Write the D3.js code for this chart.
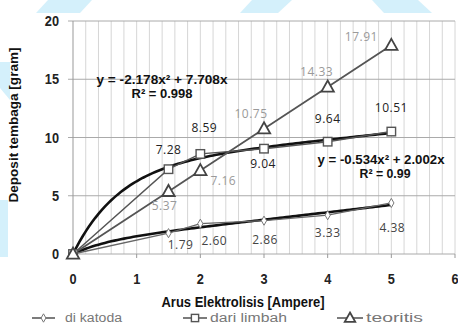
<!DOCTYPE html>
<html>
<head>
<meta charset="utf-8">
<script src="https://cdn.jsdelivr.net/npm/d3@7"></script>
<style>
  body { margin: 0; background: #fff; }
  svg { display: block; }
</style>
</head>
<body>
<div id="chart"></div>
<script>
// Data
const arus = [0, 1.5, 2, 3, 4, 5];
const diKatoda = [0, 1.79, 2.60, 2.86, 3.33, 4.38];
const dariLimbah = [0, 7.28, 8.59, 9.04, 9.64, 10.51];
const teoritis = [0, 5.37, 7.16, 10.75, 14.33, 17.91];
const xTicks = [0, 1, 2, 3, 4, 5, 6];
const yTicks = [0, 5, 10, 15, 20];
const legendNames = ["di katoda", "dari limbah", "teoritis"];
const equations = ["y = -2.178x\u00b2 + 7.708x", "R\u00b2 = 0.998", "y = -0.534x\u00b2 + 2.002x", "R\u00b2 = 0.99"];

// label offsets (px from the point) for each point label
const katodaOff = [null, [12, 12], [14, 17], [1, 19], [0, 18], [1, 25]];
const limbahOff = [null, [0, -19], [4, -26], [-1, 15], [0, -23], [0, -24]];
const teoOff = [null, [-4, 15], [23, 10], [-13, -15], [-11, -15], [-30, -8]];

const width = 458, height = 327;
const svg = d3.select("#chart").append("svg")
    .attr("width", width)
    .attr("height", height);

// faint watermark shapes
const wm = [
    [[48, 0], [92, 0], [80, 13], [36, 13]],
    [[252, 0], [292, 0], [278, 13], [240, 13]],
    [[372, 0], [418, 0], [432, 13], [384, 13]],
    [[0, 200], [8, 200], [8, 257], [0, 257]],
    [[0, 62], [10, 62], [10, 100], [0, 88]]
];
svg.append("g").selectAll("polygon").data(wm).enter().append("polygon")
    .attr("points", d => d.map(p => p.join(",")).join(" "))
    .attr("fill", "#d4f0fb");

const x = d3.scaleLinear().domain([0, 6]).range([73, 455]);
const y = d3.scaleLinear().domain([0, 20]).range([254, 21]);

const sans = "'Liberation Sans', Arial, sans-serif";

// squeezed text helper (no narrow font installed)
function txt(g, str, tx, ty, font, sx, anchor, color) {
    return g.append("text")
        .attr("transform", `translate(${tx},${ty}) scale(${sx},1)`)
        .attr("text-anchor", anchor || "middle")
        .style("font", font)
        .attr("fill", color || "#111")
        .text(str);
}

// minor vertical grid
const minor = d3.range(0.2, 6.01, 0.2);
svg.append("g").selectAll("line").data(minor).enter().append("line")
    .attr("x1", d => x(d)).attr("x2", d => x(d))
    .attr("y1", y(20)).attr("y2", y(0))
    .attr("stroke", "#d6d6d6").attr("stroke-width", 1);

// major horizontal grid (extends left as ticks)
svg.append("g").selectAll("line").data(yTicks).enter().append("line")
    .attr("x1", x(0) - 5).attr("x2", x(6))
    .attr("y1", d => y(d)).attr("y2", d => y(d))
    .attr("stroke", "#aaa").attr("stroke-width", 1);

// axis line and x ticks
svg.append("line")
    .attr("x1", x(0)).attr("x2", x(0)).attr("y1", y(20)).attr("y2", y(0) + 4)
    .attr("stroke", "#999");
svg.append("g").selectAll("line").data(xTicks).enter().append("line")
    .attr("x1", d => x(d)).attr("x2", d => x(d))
    .attr("y1", y(0)).attr("y2", y(0) + 4)
    .attr("stroke", "#999");

// tick labels
const tg = svg.append("g");
xTicks.forEach(t => txt(tg, t, x(t), 284, "bold 15px " + sans, 0.85, "middle", "#222"));
yTicks.forEach(t => txt(tg, t, 59, y(t) + 5, "bold 15px " + sans, 0.85, "end", "#222"));

// axis titles
svg.append("text")
    .attr("x", 243).attr("y", 307)
    .attr("text-anchor", "middle")
    .attr("textLength", 163).attr("lengthAdjust", "spacingAndGlyphs")
    .style("font", "bold 14px " + sans)
    .attr("fill", "#111")
    .text("Arus Elektrolisis [Ampere]");
svg.append("text")
    .attr("transform", "translate(18,125) rotate(-90)")
    .attr("text-anchor", "middle")
    .attr("textLength", 155).attr("lengthAdjust", "spacingAndGlyphs")
    .style("font", "bold 13px " + sans)
    .attr("fill", "#111")
    .text("Deposit tembaga [gram]");

// least-squares trend: y = a(1 - e^{-bx}) + c x
function fitTrend(xs, ys) {
    let best = null;
    for (let b = 0.05; b <= 6; b += 0.01) {
        let s11 = 0, s12 = 0, s22 = 0, t1 = 0, t2 = 0;
        xs.forEach((xv, i) => {
            const f1 = 1 - Math.exp(-b * xv), f2 = xv;
            s11 += f1 * f1; s12 += f1 * f2; s22 += f2 * f2;
            t1 += f1 * ys[i]; t2 += f2 * ys[i];
        });
        const det = s11 * s22 - s12 * s12;
        if (Math.abs(det) < 1e-9) continue;
        const a = (t1 * s22 - t2 * s12) / det;
        const c = (s11 * t2 - s12 * t1) / det;
        let sse = 0;
        xs.forEach((xv, i) => {
            const e = a * (1 - Math.exp(-b * xv)) + c * xv - ys[i];
            sse += e * e;
        });
        if (!best || sse < best.sse) best = { a, b, c, sse };
    }
    return xv => best.a * (1 - Math.exp(-best.b * xv)) + best.c * xv;
}

const pts = vals => vals.map((v, i) => [arus[i], v]);
const line = d3.line().x(d => x(d[0])).y(d => y(d[1]));

// thick trend curves
[diKatoda, dariLimbah].forEach(s => {
    const f = fitTrend(arus, s);
    const samples = d3.range(0, 5.001, 0.05).map(xv => [xv, f(xv)]);
    svg.append("path")
        .attr("d", line(samples))
        .attr("fill", "none")
        .attr("stroke", "#111")
        .attr("stroke-width", 2.6);
});

// thin series lines
[[diKatoda, "#666", 1.3], [dariLimbah, "#555", 1.4], [teoritis, "#555", 1.8]].forEach(s => {
    svg.append("path")
        .attr("d", line(pts(s[0])))
        .attr("fill", "none")
        .attr("stroke", s[1])
        .attr("stroke-width", s[2]);
});

// markers
function marker(g, type, cx, cy, sc) {
    sc = sc || 1;
    if (type === "diamond") {
        g.append("path")
            .attr("d", d3.symbol().type(d3.symbolDiamond).size(24 * sc)())
            .attr("transform", `translate(${cx},${cy})`)
            .attr("fill", "#fff").attr("stroke", "#777").attr("stroke-width", 1);
    } else if (type === "square") {
        const s = 8.5 * sc;
        g.append("rect")
            .attr("x", cx - s / 2).attr("y", cy - s / 2)
            .attr("width", s).attr("height", s)
            .attr("fill", "#fff").attr("stroke", "#555").attr("stroke-width", 1.4);
    } else {
        const r = 6.5 * sc;
        g.append("path")
            .attr("d", `M${cx},${cy - r}L${cx + r * 0.95},${cy + r * 0.7}L${cx - r * 0.95},${cy + r * 0.7}Z`)
            .attr("fill", "#fff").attr("stroke", "#444").attr("stroke-width", 1.8);
    }
}

const mg = svg.append("g");
arus.forEach((a, i) => {
    marker(mg, "diamond", x(a), y(diKatoda[i]));
    marker(mg, "square", x(a), y(dariLimbah[i]));
    marker(mg, "triangle", x(a), y(teoritis[i]));
});

// data labels
function labels(vals, off, color) {
    svg.append("g").selectAll("text").data(vals.slice(1)).enter().append("text")
        .attr("x", (d, i) => x(arus[i + 1]) + off[i + 1][0])
        .attr("y", (d, i) => y(d) + off[i + 1][1] + 4)
        .attr("text-anchor", "middle")
        .style("font", "12px 'Open Sans', " + sans)
        .style("letter-spacing", "0.5px")
        .attr("fill", color)
        .text(d => d.toFixed(2));
}
labels(diKatoda, katodaOff, "#444");
labels(dariLimbah, limbahOff, "#222");
labels(teoritis, teoOff, "#9a9a9a");

// trend equations
const eqPos = [[162, 84, 131], [162, 98, 61], [381, 164, 127], [385, 178, 51]];
svg.append("g").selectAll("text").data(equations).enter().append("text")
    .attr("x", (d, i) => eqPos[i][0]).attr("y", (d, i) => eqPos[i][1])
    .attr("text-anchor", "middle")
    .attr("textLength", (d, i) => eqPos[i][2]).attr("lengthAdjust", "spacingAndGlyphs")
    .style("font", "bold 12px " + sans)
    .attr("fill", "#111")
    .text(d => d);

// legend
const legLine = [[32, 55, 65, 57], [183, 207, 210, 77], [337, 363, 366, 57]];
const lg = svg.append("g");
legendNames.forEach((n, i) => {
    const p = legLine[i], ly = 318;
    lg.append("line")
        .attr("x1", p[0]).attr("x2", p[1]).attr("y1", ly).attr("y2", ly)
        .attr("stroke", "#444").attr("stroke-width", 1.4);
    marker(lg, ["diamond", "square", "triangle"][i], (p[0] + p[1]) / 2, ly, 0.85);
    lg.append("text")
        .attr("x", p[2]).attr("y", ly + 4)
        .attr("textLength", p[3]).attr("lengthAdjust", "spacingAndGlyphs")
        .style("font", "12px " + sans)
        .attr("fill", "#777")
        .text(n);
});
</script>
</body>
</html>
